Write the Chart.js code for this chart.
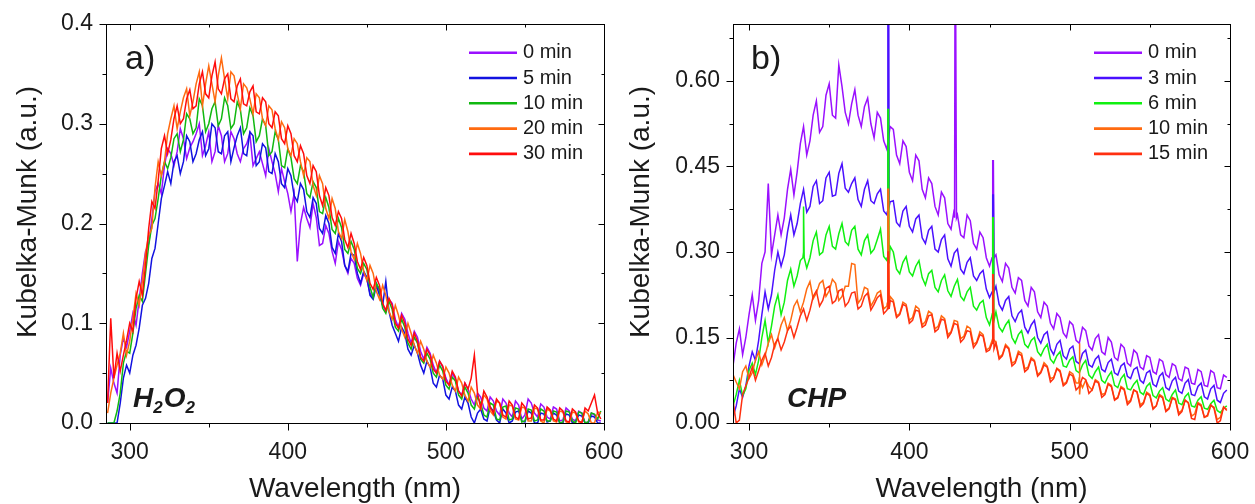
<!DOCTYPE html>
<html>
<head>
<meta charset="utf-8">
<script src="https://cdn.jsdelivr.net/npm/chart.js@4.4.1/dist/chart.umd.min.js"></script>
<style>
  body { margin: 0; background: #fff; }
  #wrap { position: relative; width: 1255px; height: 504px; background: #fff; }
  canvas { position: absolute; top: 0; }
  #chartA { left: 0; }
  #chartB { left: 624px; }
</style>
</head>
<body>
<div id="wrap">
  <canvas id="chartA" width="624" height="504"></canvas>
  <canvas id="chartB" width="631" height="504"></canvas>
</div>
<script>
/*** Panel a) H2O2 ***/
const wlA = [286,288,290,292,294,296,298,300,302,304,306,308,310,312,314,316,318,320,322,324,
  326,328,330,332,334,336,338,340,342,344,346,348,350,352,354,356,358,360,362,364,
  366,368,370,372,374,376,378,380,382,384,386,388,390,392,394,396,398,400,402,404,
  406,408,410,412,414,416,418,420,422,424,426,428,430,432,434,436,438,440,442,444,
  446,448,450,452,454,456,458,460,462,464,466,468,470,472,474,476,478,480,482,484,
  486,488,490,492,494,496,498,500,502,504,506,508,510,512,514,516,518,520,522,524,
  526,528,530,532,534,536,538,540,542,544,546,548,550,552,554,556,558,560,562,564,
  566,568,570,572,574,576,578,580,582,584,586,588,590,592,594,596,598];
const labelsA = ['0 min', '5 min', '10 min', '20 min', '30 min'];
const a0min = [0.020,0.055,0.040,0.030,0.068,0.085,0.076,0.092,0.110,0.098,0.124,0.150,0.172,0.180,0.205,0.232,0.240,0.230,0.258,0.275,
  0.270,0.258,0.272,0.295,0.285,0.265,0.276,0.282,0.290,0.300,0.268,0.278,0.292,0.262,0.272,0.298,0.288,0.262,0.270,0.292,
  0.285,0.270,0.262,0.275,0.280,0.290,0.258,0.265,0.272,0.260,0.248,0.275,0.262,0.250,0.232,0.255,0.242,0.230,0.212,0.230,
  0.162,0.200,0.216,0.205,0.196,0.220,0.206,0.178,0.180,0.198,0.190,0.172,0.160,0.182,0.174,0.158,0.150,0.165,0.160,0.145,
  0.138,0.150,0.144,0.130,0.126,0.140,0.132,0.118,0.112,0.124,0.120,0.104,0.096,0.110,0.104,0.090,0.080,0.092,0.086,0.072,
  0.064,0.076,0.070,0.058,0.050,0.062,0.056,0.045,0.038,0.050,0.044,0.032,0.028,0.040,0.034,0.024,0.018,0.030,0.026,0.015,
  0.012,0.026,0.022,0.012,0.008,0.024,0.020,0.010,0.006,0.022,0.018,0.004,0.008,0.024,0.020,0.010,0.006,0.019,0.016,0.006,
  0.004,0.016,0.014,0.002,0.003,0.015,0.012,0.004,0.002,0.012,0.010,0.000,0.001,0.010,0.008,0.003,0.002];
const a5min = [0.000,0.000,0.000,0.000,0.020,0.045,0.058,0.050,0.068,0.078,0.095,0.118,0.125,0.140,0.165,0.175,0.200,0.225,0.238,0.252,
  0.240,0.262,0.268,0.250,0.262,0.288,0.282,0.262,0.270,0.284,0.292,0.268,0.275,0.300,0.296,0.272,0.270,0.288,0.292,0.262,
  0.276,0.288,0.296,0.270,0.268,0.292,0.288,0.258,0.262,0.280,0.276,0.252,0.250,0.270,0.262,0.240,0.236,0.255,0.248,0.228,
  0.222,0.240,0.234,0.212,0.206,0.226,0.220,0.195,0.190,0.208,0.200,0.176,0.170,0.190,0.182,0.158,0.152,0.170,0.168,0.150,
  0.140,0.152,0.146,0.128,0.124,0.138,0.128,0.118,0.142,0.112,0.098,0.090,0.082,0.096,0.090,0.074,0.068,0.078,0.070,0.058,
  0.050,0.062,0.056,0.040,0.036,0.048,0.044,0.028,0.024,0.036,0.032,0.018,0.014,0.026,0.020,0.006,0.000,0.010,0.014,0.004,
  0.002,0.016,0.012,0.003,0.000,0.014,0.010,0.000,0.002,0.011,0.012,0.002,0.001,0.012,0.010,0.000,0.000,0.010,0.009,0.001,
  0.002,0.010,0.008,0.000,0.000,0.009,0.008,0.000,0.001,0.008,0.007,0.000,0.000,0.007,0.006,0.000,0.000];
const a10min = [0.000,0.000,0.000,0.012,0.030,0.060,0.072,0.070,0.090,0.115,0.128,0.122,0.150,0.178,0.198,0.205,0.225,0.248,0.262,0.255,
  0.266,0.285,0.290,0.272,0.284,0.310,0.305,0.290,0.296,0.325,0.318,0.292,0.300,0.315,0.322,0.298,0.305,0.326,0.318,0.295,
  0.300,0.322,0.314,0.290,0.296,0.316,0.308,0.282,0.288,0.305,0.298,0.268,0.272,0.292,0.284,0.258,0.256,0.275,0.266,0.245,
  0.240,0.258,0.252,0.230,0.226,0.242,0.236,0.212,0.210,0.226,0.216,0.194,0.190,0.205,0.196,0.174,0.170,0.182,0.174,0.155,
  0.150,0.160,0.154,0.136,0.126,0.140,0.134,0.115,0.110,0.122,0.114,0.096,0.092,0.104,0.096,0.080,0.074,0.086,0.080,0.064,
  0.060,0.070,0.064,0.050,0.046,0.058,0.052,0.038,0.034,0.046,0.042,0.028,0.024,0.036,0.030,0.018,0.014,0.026,0.020,0.008,
  0.006,0.020,0.018,0.004,0.003,0.016,0.017,0.003,0.004,0.015,0.014,0.001,0.002,0.014,0.013,0.002,0.003,0.014,0.012,0.002,
  0.002,0.012,0.011,0.000,0.001,0.012,0.011,0.002,0.000,0.011,0.010,0.000,0.001,0.010,0.009,0.004,0.012];
const a20min = [0.010,0.030,0.045,0.058,0.070,0.090,0.068,0.082,0.105,0.130,0.118,0.142,0.170,0.188,0.195,0.236,0.262,0.248,0.262,0.290,
  0.305,0.318,0.295,0.312,0.326,0.335,0.308,0.322,0.340,0.352,0.318,0.340,0.358,0.340,0.322,0.348,0.366,0.345,0.325,0.352,
  0.348,0.330,0.315,0.340,0.336,0.325,0.310,0.330,0.326,0.305,0.298,0.318,0.314,0.295,0.284,0.302,0.296,0.275,0.268,0.285,
  0.280,0.262,0.248,0.266,0.262,0.238,0.228,0.248,0.240,0.215,0.205,0.225,0.215,0.192,0.185,0.204,0.192,0.172,0.164,0.180,
  0.170,0.152,0.143,0.158,0.150,0.132,0.124,0.138,0.128,0.112,0.104,0.118,0.108,0.094,0.086,0.100,0.090,0.078,0.070,0.082,
  0.074,0.062,0.056,0.068,0.060,0.048,0.044,0.056,0.050,0.038,0.032,0.046,0.040,0.028,0.022,0.036,0.030,0.018,0.014,0.028,
  0.024,0.012,0.008,0.022,0.020,0.006,0.004,0.018,0.017,0.004,0.003,0.016,0.015,0.002,0.002,0.015,0.014,0.002,0.000,0.014,
  0.012,0.002,0.001,0.012,0.011,0.001,0.000,0.011,0.010,0.001,0.001,0.012,0.009,0.000,0.000,0.011,0.010];
const a30min = [0.020,0.105,0.045,0.070,0.052,0.068,0.083,0.100,0.092,0.125,0.142,0.128,0.158,0.195,0.222,0.215,0.243,0.275,0.288,0.270,
  0.284,0.305,0.318,0.300,0.305,0.325,0.334,0.315,0.318,0.340,0.352,0.330,0.326,0.348,0.362,0.335,0.330,0.345,0.350,0.325,
  0.322,0.338,0.345,0.320,0.318,0.332,0.338,0.312,0.310,0.326,0.322,0.300,0.296,0.312,0.308,0.285,0.280,0.298,0.290,0.268,
  0.262,0.278,0.270,0.248,0.240,0.258,0.252,0.228,0.218,0.236,0.228,0.206,0.198,0.212,0.205,0.184,0.176,0.190,0.180,0.162,
  0.154,0.166,0.158,0.140,0.134,0.146,0.138,0.120,0.113,0.125,0.118,0.100,0.095,0.108,0.100,0.084,0.078,0.090,0.082,0.066,
  0.062,0.074,0.068,0.054,0.050,0.062,0.057,0.042,0.038,0.052,0.046,0.032,0.027,0.040,0.034,0.045,0.068,0.030,0.015,0.032,
  0.026,0.016,0.010,0.024,0.020,0.008,0.006,0.022,0.018,0.006,0.004,0.020,0.016,0.004,0.005,0.018,0.015,0.003,0.003,0.016,
  0.013,0.004,0.002,0.015,0.012,0.002,0.001,0.014,0.011,0.002,0.000,0.015,0.012,0.020,0.028,0.010,0.004];
const seriesA = [a0min, a5min, a10min, a20min, a30min];
const colorsA = ['#9a10ff', '#1212e0', '#10b810', '#ff6a10', '#ff0c0c'];
const xMajor = [300, 400, 500, 600];
const xMinor = [350, 450, 550];
const yMajorA = [0, 0.1, 0.2, 0.3, 0.4];
const yMinorA = [0.05, 0.15, 0.25, 0.35];

/*** Panel b) CHP ***/
const wlB = [290,292,294,296,298,300,302,304,306,308,310,312,314,316,318,320,322,324,326,328,
  330,332,334,336,338,340,342,344,346,348,350,352,354,356,358,360,362,364,366,368,
  370,372,374,376,378,380,382,384,386,388,390,392,394,396,398,400,402,404,406,408,
  410,412,414,416,418,420,422,424,426,428,430,432,434,436,438,440,442,444,446,448,
  450,452,454,456,458,460,462,464,466,468,470,472,474,476,478,480,482,484,486,488,
  490,492,494,496,498,500,502,504,506,508,510,512,514,516,518,520,522,524,526,528,
  530,532,534,536,538,540,542,544,546,548,550,552,554,556,558,560,562,564,566,568,
  570,572,574,576,578,580,582,584,586,588,590,592,594,596,598];
const labelsB = ['0 min', '3 min', '6 min', '10 min', '15 min'];
const b0min = [0.100,0.140,0.165,0.120,0.150,0.190,0.225,0.180,0.215,0.280,0.300,0.420,0.295,0.330,0.365,0.330,0.360,0.410,0.445,0.400,
  0.440,0.490,0.520,0.470,0.495,0.540,0.565,0.510,0.520,0.575,0.595,0.540,0.535,0.628,0.590,0.545,0.525,0.560,0.585,0.540,
  0.520,0.555,0.570,0.525,0.500,0.545,0.535,0.495,0.480,0.520,0.515,0.470,0.455,0.495,0.485,0.440,0.425,0.470,0.460,0.410,
  0.395,0.430,0.420,0.380,0.365,0.405,0.395,0.350,0.340,0.375,0.365,0.330,0.325,0.365,0.355,0.315,0.305,0.335,0.325,0.290,
  0.275,0.305,0.295,0.260,0.248,0.280,0.272,0.238,0.228,0.255,0.250,0.215,0.205,0.238,0.230,0.195,0.185,0.212,0.205,0.175,
  0.165,0.192,0.185,0.158,0.150,0.178,0.172,0.145,0.140,0.168,0.162,0.135,0.128,0.148,0.155,0.125,0.120,0.150,0.142,0.115,
  0.110,0.138,0.132,0.105,0.100,0.128,0.122,0.098,0.094,0.118,0.115,0.090,0.086,0.112,0.108,0.085,0.080,0.104,0.100,0.078,
  0.074,0.098,0.095,0.070,0.068,0.094,0.090,0.066,0.064,0.092,0.088,0.062,0.060,0.084,0.080];
const b3min = [0.010,0.030,0.060,0.045,0.065,0.100,0.125,0.110,0.145,0.190,0.230,0.200,0.225,0.268,0.300,0.275,0.295,0.335,0.365,0.330,
  0.350,0.385,0.410,0.370,0.380,0.415,0.425,0.385,0.390,0.430,0.440,0.398,0.400,0.438,0.455,0.412,0.405,0.420,0.430,0.392,
  0.380,0.410,0.425,0.390,0.385,0.402,0.410,0.372,0.365,0.388,0.390,0.352,0.345,0.372,0.380,0.345,0.335,0.358,0.365,0.325,
  0.315,0.338,0.345,0.305,0.300,0.322,0.330,0.288,0.275,0.298,0.305,0.270,0.262,0.282,0.290,0.258,0.250,0.262,0.268,0.235,
  0.220,0.235,0.240,0.208,0.198,0.215,0.222,0.188,0.178,0.192,0.198,0.168,0.158,0.172,0.180,0.150,0.140,0.155,0.160,0.130,
  0.120,0.138,0.145,0.118,0.112,0.130,0.135,0.108,0.104,0.122,0.128,0.102,0.098,0.112,0.118,0.094,0.090,0.106,0.112,0.088,
  0.084,0.100,0.105,0.082,0.078,0.094,0.098,0.075,0.070,0.088,0.092,0.068,0.064,0.082,0.088,0.062,0.058,0.074,0.080,0.056,
  0.052,0.070,0.076,0.050,0.048,0.064,0.070,0.046,0.042,0.060,0.066,0.040,0.036,0.052,0.058];
const b6min = [0.030,0.050,0.075,0.048,0.060,0.092,0.105,0.085,0.110,0.150,0.180,0.140,0.170,0.205,0.225,0.190,0.212,0.250,0.270,0.240,
  0.258,0.285,0.300,0.272,0.290,0.320,0.335,0.295,0.300,0.330,0.345,0.310,0.305,0.332,0.350,0.318,0.312,0.338,0.345,0.305,
  0.295,0.320,0.330,0.298,0.305,0.322,0.340,0.292,0.285,0.310,0.300,0.270,0.262,0.282,0.292,0.265,0.258,0.275,0.285,0.255,
  0.242,0.262,0.268,0.238,0.230,0.250,0.260,0.232,0.222,0.240,0.252,0.222,0.215,0.230,0.238,0.205,0.198,0.210,0.215,0.185,
  0.172,0.188,0.195,0.168,0.160,0.172,0.180,0.150,0.140,0.155,0.162,0.138,0.132,0.145,0.150,0.125,0.118,0.130,0.138,0.112,
  0.105,0.118,0.125,0.100,0.098,0.110,0.116,0.092,0.088,0.102,0.110,0.084,0.078,0.090,0.098,0.075,0.070,0.082,0.090,0.066,
  0.062,0.078,0.085,0.060,0.058,0.068,0.075,0.054,0.050,0.064,0.070,0.048,0.044,0.056,0.062,0.042,0.038,0.050,0.058,0.035,
  0.032,0.046,0.052,0.030,0.028,0.040,0.046,0.026,0.024,0.034,0.040,0.022,0.018,0.026,0.030];
const b10min = [0.085,0.072,0.060,0.090,0.100,0.078,0.088,0.110,0.125,0.102,0.118,0.140,0.155,0.132,0.150,0.172,0.185,0.162,0.180,0.205,
  0.215,0.195,0.212,0.235,0.248,0.218,0.228,0.245,0.250,0.222,0.232,0.252,0.245,0.215,0.222,0.240,0.240,0.280,0.278,0.210,
  0.218,0.238,0.235,0.205,0.215,0.228,0.232,0.200,0.205,0.222,0.215,0.188,0.192,0.212,0.208,0.180,0.185,0.205,0.200,0.172,
  0.178,0.196,0.192,0.165,0.170,0.188,0.183,0.155,0.160,0.180,0.178,0.148,0.152,0.170,0.166,0.138,0.142,0.160,0.155,0.128,
  0.132,0.148,0.142,0.115,0.120,0.138,0.132,0.105,0.108,0.126,0.122,0.095,0.098,0.115,0.110,0.085,0.090,0.106,0.100,0.078,
  0.080,0.096,0.092,0.068,0.072,0.090,0.086,0.070,0.080,0.062,0.075,0.064,0.058,0.076,0.072,0.050,0.052,0.070,0.066,0.042,
  0.045,0.064,0.060,0.036,0.040,0.058,0.055,0.032,0.036,0.054,0.050,0.026,0.030,0.050,0.046,0.022,0.026,0.045,0.042,0.018,
  0.022,0.040,0.036,0.012,0.016,0.036,0.032,0.010,0.012,0.030,0.028,0.006,0.010,0.028,0.024];
const b15min = [0.040,0.000,0.005,0.050,0.065,0.080,0.098,0.075,0.092,0.110,0.122,0.100,0.115,0.138,0.148,0.128,0.142,0.162,0.170,0.150,
  0.168,0.188,0.200,0.180,0.198,0.222,0.232,0.205,0.215,0.236,0.240,0.210,0.215,0.232,0.235,0.205,0.212,0.228,0.230,0.200,
  0.205,0.222,0.228,0.198,0.208,0.220,0.225,0.192,0.198,0.215,0.212,0.185,0.190,0.208,0.205,0.175,0.180,0.198,0.196,0.168,
  0.172,0.188,0.190,0.160,0.165,0.182,0.180,0.150,0.158,0.175,0.172,0.142,0.148,0.162,0.160,0.132,0.140,0.155,0.152,0.125,
  0.128,0.145,0.140,0.112,0.118,0.135,0.130,0.100,0.105,0.122,0.118,0.090,0.095,0.112,0.108,0.082,0.088,0.102,0.098,0.072,
  0.078,0.095,0.090,0.065,0.070,0.086,0.082,0.058,0.064,0.080,0.076,0.052,0.058,0.074,0.070,0.045,0.050,0.068,0.064,0.040,
  0.044,0.062,0.058,0.032,0.038,0.058,0.054,0.028,0.034,0.052,0.048,0.024,0.030,0.048,0.044,0.020,0.025,0.044,0.040,0.014,
  0.020,0.040,0.035,0.008,0.006,0.034,0.030,0.010,0.014,0.032,0.026,0.000,0.004,0.028,0.022];
// narrow spikes [wavelength, value]
const spikes0 = [[428.2,0.36],[428.6,0.95],[429.0,0.95],[429.4,0.36],[451.6,0.29],[452.0,0.46],[452.4,0.46],[452.8,0.29]];
const spikes3 = [[386.2,0.37],[386.6,0.95],[387.0,0.95],[387.4,0.38],[451.6,0.23],[452.0,0.40],[452.4,0.40],[452.8,0.23]];
const spikes6 = [[333.6,0.29],[334.0,0.38],[334.4,0.29],[386.2,0.29],[386.6,0.55],[387.0,0.55],[387.4,0.28],
  [451.6,0.19],[452.0,0.36],[452.4,0.36],[452.8,0.18]];
const spikes10 = [[386.2,0.21],[386.6,0.41],[387.0,0.41],[387.4,0.20],[505.6,0.07],[506.0,0.14],[506.4,0.05],[506.8,0.07]];
const spikes15 = [[386.2,0.20],[386.6,0.30],[387.0,0.30],[387.4,0.20],[451.6,0.14],[452.0,0.26],[452.4,0.26],[452.8,0.13]];
const seriesB = [b0min, b3min, b6min, b10min, b15min];
const spikesB = [spikes0, spikes3, spikes6, spikes10, spikes15];
const colorsB = ['#9a10ff', '#4a10ff', '#10f010', '#ff6a10', '#ff3010'];
const yMajorB = [0, 0.15, 0.30, 0.45, 0.60];
const yMinorB = [0.075, 0.225, 0.375, 0.525, 0.675];

const FONT = '"Liberation Sans", Arial, sans-serif';
const INK = '#1a1a1a';

const toPoints = (wl, vals, spikes = []) =>
  wl.map((x, i) => ({ x, y: vals[i] }))
    .concat(spikes.map(([x, y]) => ({ x, y })))
    .sort((p, q) => p.x - q.x);

// frame, inner ticks, legend, labels
const decor = {
  id: 'decor',
  afterDraw(chart, args, o) {
    const { ctx, chartArea: a, scales: { x, y } } = chart;
    ctx.save();
    ctx.strokeStyle = '#000';
    ctx.lineWidth = 1;
    const L = Math.round(a.left) + 0.5, R = Math.round(a.right) + 0.5;
    const T = Math.round(a.top) + 0.5, B = Math.round(a.bottom) + 0.5;
    ctx.strokeRect(L, T, R - L, B - T);
    const tick = (x1, y1, x2, y2) => { ctx.beginPath(); ctx.moveTo(x1, y1); ctx.lineTo(x2, y2); ctx.stroke(); };
    o.xMajor.forEach(v => { const p = Math.round(x.getPixelForValue(v)) + 0.5; tick(p, B, p, B + 7); tick(p, T, p, T + 6); });
    o.xMinor.forEach(v => { const p = Math.round(x.getPixelForValue(v)) + 0.5; tick(p, B, p, B + 4); tick(p, T, p, T + 3); });
    o.yMajor.forEach(v => { const p = Math.round(y.getPixelForValue(v)) + 0.5; tick(L - 7, p, L, p); tick(R - 6, p, R, p); });
    o.yMinor.forEach(v => { const p = Math.round(y.getPixelForValue(v)) + 0.5; tick(L - 4, p, L, p); tick(R - 3, p, R, p); });

    // legend
    ctx.font = '20px ' + FONT;
    ctx.textBaseline = 'middle';
    ctx.textAlign = 'left';
    chart.data.datasets.forEach((ds, i) => {
      const yy = o.legend.y + i * 25.3;
      ctx.strokeStyle = ds.borderColor;
      ctx.lineWidth = 2.6;
      tick(o.legend.x, yy, o.legend.x + 48, yy);
      ctx.fillStyle = INK;
      ctx.fillText(ds.label, o.legend.x + 54, yy);
    });

    // panel letter
    ctx.fillStyle = INK;
    ctx.textBaseline = 'alphabetic';
    ctx.font = '34px ' + FONT;
    ctx.fillText(o.letter, o.letterX, 69);

    // sample name with subscripts
    let cx = o.nameX;
    o.name.forEach(([txt, sub]) => {
      ctx.font = 'italic bold ' + (sub ? 17 : 28) + 'px ' + FONT;
      ctx.fillText(txt, cx, sub ? 413 : 407);
      cx += ctx.measureText(txt).width + (sub ? 1 : 0);
    });

    // axis titles
    ctx.font = '28px ' + FONT;
    ctx.textAlign = 'center';
    ctx.fillText('Wavelength (nm)', (a.left + a.right) / 2, 497);
    ctx.translate(o.yTitleX, 212);
    ctx.rotate(-Math.PI / 2);
    ctx.textBaseline = 'middle';
    ctx.fillText('Kubelka-Munk (a.u.)', 0, 0);
    ctx.restore();
  }
};

const buildPanel = (id, p) => {
  const datasets = p.labels.map((label, i) => ({
    label,
    data: toPoints(p.wl, p.series[i], p.spikes ? p.spikes[i] : []),
    borderColor: p.colors[i],
    borderWidth: 1.5,
    pointRadius: 0,
    tension: 0,
    order: p.labels.length - i
  }));
  return new Chart(document.getElementById(id), {
    type: 'line',
    data: { datasets },
    plugins: [decor],
    options: {
      responsive: false,
      animation: false,
      events: [],
      layout: { padding: { top: 24, right: p.padRight, left: 0, bottom: 0 } },
      plugins: {
        legend: { display: false },
        tooltip: { enabled: false },
        decor: p.decor
      },
      scales: {
        x: {
          type: 'linear', min: p.xMin, max: 600,
          grid: { display: false, drawTicks: false },
          border: { display: false },
          ticks: { font: { family: FONT, size: 23 }, color: INK, padding: 16, maxRotation: 0, autoSkip: false },
          afterBuildTicks: s => { s.ticks = xMajor.map(v => ({ value: v })); },
          afterFit: s => { s.height = 81; s.paddingLeft = 0; s.paddingRight = 0; }
        },
        y: {
          min: 0, max: p.yMax,
          grid: { display: false, drawTicks: false },
          border: { display: false },
          ticks: { font: { family: FONT, size: 23 }, color: INK, padding: 13, autoSkip: false,
                   callback: v => v.toFixed(p.dec) },
          afterBuildTicks: s => { s.ticks = p.decor.yMajor.map(v => ({ value: v })); },
          afterFit: s => { s.width = p.yWidth; s.paddingTop = 0; s.paddingBottom = 0; }
        }
      }
    }
  });
};

buildPanel('chartA', {
  wl: wlA, labels: labelsA, series: seriesA, colors: colorsA,
  xMin: 285, yMax: 0.4, dec: 1, yWidth: 106, padRight: 20,
  decor: { xMajor, xMinor, yMajor: yMajorA, yMinor: yMinorA,
           legend: { x: 469, y: 52.7 }, letter: 'a)', letterX: 125,
           name: [['H', false], ['2', true], ['O', false], ['2', true]], nameX: 133, yTitleX: 28.3 }
});

buildPanel('chartB', {
  wl: wlB, labels: labelsB, series: seriesB, spikes: spikesB, colors: colorsB,
  xMin: 290, yMax: 0.7, dec: 2, yWidth: 109, padRight: 25,
  decor: { xMajor, xMinor, yMajor: yMajorB, yMinor: yMinorB,
           legend: { x: 1094 - 624, y: 52.7 }, letter: 'b)', letterX: 127,
           name: [['CHP', false]], nameX: 163, yTitleX: 17 }
});
</script>
</body>
</html>
